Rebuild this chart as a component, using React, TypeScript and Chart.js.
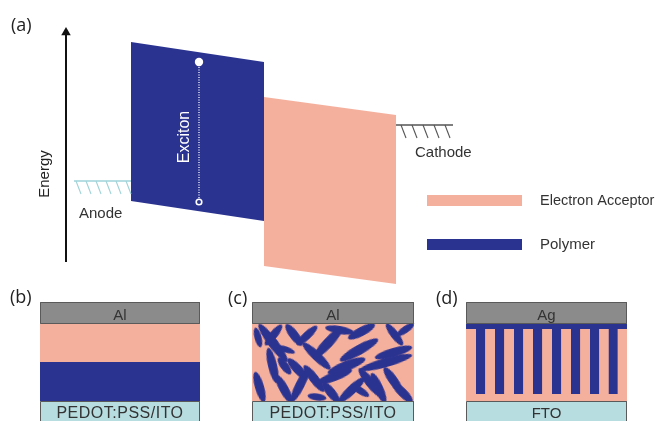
import React, { useEffect, useRef } from 'react';
import { Chart, registerables } from 'chart.js';

Chart.register(...registerables);

// ---------- Panel (a): energy diagram (diagram units, y grows downward) ----------
const POLYMER_X = [131, 264];
const POLYMER_UPPER = [42, 62];
const POLYMER_LOWER = [201, 221];
const ACCEPTOR_X = [264, 396];
const ACCEPTOR_UPPER = [97, 115];
const ACCEPTOR_LOWER = [266, 284];
const ANODE_X = [74, 131];
const ANODE_LEVEL = 181;
const ANODE_HATCH = [76, 86, 96, 106, 116, 126];
const CATHODE_X = [396, 453];
const CATHODE_LEVEL = 125;
const CATHODE_HATCH = [401, 412, 423, 434, 445];
const EXCITON_X = 199;
const EXCITON_Y = [62, 202];
const ENERGY_AXIS_X = 66;
const ENERGY_AXIS_Y = [262, 34];
const LEGEND_LABELS = ['Electron Acceptor', 'Polymer'];
const LEGEND_SWATCH_X = [427, 522];
const LEGEND_SWATCH_Y = [[195, 206], [239, 250]];

// ---------- Panels (b)-(d): device cross sections ----------
const PANEL_B_X = [40, 200];
const PANEL_C_X = [252, 414];
const PANEL_D_X = [466, 627];
const ELECTRODE_Y = [302, 324];
const ACTIVE_Y = [324, 401];
const SUBSTRATE_Y = [401, 424];
const BILAYER_SPLIT = 362;
const PILLAR_CAP_Y = [324, 329];
const PILLAR_LEFT = [476, 495, 514, 533, 552, 571, 590, 608.5];
const PILLAR_WIDTH = 9.3;
const PILLAR_Y = [329, 394];
const TOP_ELECTRODES = ['Al', 'Al', 'Ag'];
const BOTTOM_ELECTRODES = ['PEDOT:PSS/ITO', 'PEDOT:PSS/ITO', 'FTO'];
// bulk heterojunction domains: [x1, y1, x2, y2, thickness]
const BLEND_DOMAINS = [
  [261, 327, 285, 359, 10], [267, 343, 280, 327, 8], [256, 330, 260, 345, 7],
  [288, 327, 300, 343, 9], [299, 343, 315, 328, 8], [305, 345, 328, 367, 9],
  [316, 356, 340, 330, 10], [328, 328, 351, 332, 8], [351, 337, 372, 326, 9],
  [388, 326, 401, 343, 8], [343, 359, 375, 341, 10], [378, 357, 409, 348, 9],
  [269, 351, 276, 380, 9], [280, 360, 289, 372, 8], [290, 361, 305, 377, 9],
  [331, 372, 362, 360, 10], [363, 369, 409, 356, 9], [256, 375, 263, 399, 9],
  [278, 378, 290, 400, 9], [293, 399, 307, 371, 9], [306, 368, 322, 389, 9],
  [320, 382, 349, 371, 9], [325, 385, 337, 400, 9], [341, 400, 362, 380, 9],
  [361, 371, 379, 394, 9], [373, 376, 384, 400, 9], [386, 370, 400, 390, 9],
  [395, 385, 410, 400, 9], [310, 396, 324, 398, 7], [399, 334, 412, 325, 7],
  [279, 347, 293, 352, 6], [353, 386, 367, 395, 7],
];

const BLUE = '#2b3391';
const PINK = '#f5b09d';
const GREY = '#8b8b8b';
const CYAN = '#b8dde1';
const OUTLINE = '#5a5a5a';
const SANS = '"Liberation Sans", Arial, sans-serif';

type Txt = { text: string; x: number; y: number; font: string; color: string; align: CanvasTextAlign; base: CanvasTextBaseline; rot?: number; spacing?: string };

const panelCenters = [PANEL_B_X, PANEL_C_X, PANEL_D_X].map((p) => (p[0] + p[1]) / 2);

const TEXTS: Txt[] = [
  { text: '(a)', x: 11, y: 26, font: '18px "Open Sans"', color: '#222', align: 'left', base: 'middle' },
  { text: '(b)', x: 10, y: 298, font: '18px "Open Sans"', color: '#222', align: 'left', base: 'middle' },
  { text: '(c)', x: 228, y: 299, font: '18px "Open Sans"', color: '#222', align: 'left', base: 'middle' },
  { text: '(d)', x: 436, y: 299, font: '18px "Open Sans"', color: '#222', align: 'left', base: 'middle' },
  { text: 'Energy', x: 45, y: 174, font: `15px ${SANS}`, color: '#222', align: 'center', base: 'middle', rot: -90 },
  { text: 'Exciton', x: 185, y: 137, font: `16px ${SANS}`, color: '#ffffff', align: 'center', base: 'middle', rot: -90 },
  { text: 'Anode', x: 79, y: 218, font: `15px ${SANS}`, color: '#333', align: 'left', base: 'alphabetic' },
  { text: 'Cathode', x: 415, y: 157, font: `15px ${SANS}`, color: '#333', align: 'left', base: 'alphabetic' },
  { text: LEGEND_LABELS[0], x: 540, y: 200.5, font: `14.5px ${SANS}`, color: '#333', align: 'left', base: 'middle' },
  { text: LEGEND_LABELS[1], x: 540, y: 244.5, font: `15px ${SANS}`, color: '#333', align: 'left', base: 'middle' },
  ...TOP_ELECTRODES.map((t, i) => ({ text: t, x: panelCenters[i], y: 319.5, font: `15px ${SANS}`, color: '#333', align: 'center' as CanvasTextAlign, base: 'alphabetic' as CanvasTextBaseline })),
  ...BOTTOM_ELECTRODES.map((t, i) => ({ text: t, x: panelCenters[i], y: 418, font: t.length > 3 ? `16px ${SANS}` : `15px ${SANS}`, color: '#333', align: 'center' as CanvasTextAlign, base: 'alphabetic' as CanvasTextBaseline, spacing: t.length > 3 ? '0.5px' : '0px' })),
];

const textPlugin = {
  id: 'diagramText',
  afterDatasetsDraw(chart: any) {
    const { ctx } = chart;
    const sx = chart.scales.x;
    const sy = chart.scales.y;
    for (const t of TEXTS) {
      ctx.save();
      ctx.translate(sx.getPixelForValue(t.x), sy.getPixelForValue(t.y));
      if (t.rot) ctx.rotate((t.rot * Math.PI) / 180);
      ctx.font = t.font;
      ctx.fillStyle = t.color;
      ctx.textAlign = t.align;
      ctx.textBaseline = t.base;
      if (t.spacing) ctx.letterSpacing = t.spacing;
      ctx.fillText(t.text, 0, 0);
      ctx.restore();
    }
  },
};

function blobImage(len: number, th: number) {
  const c = document.createElement('canvas');
  c.width = Math.ceil(len + 2);
  c.height = Math.ceil(th + 2);
  const g = c.getContext('2d')!;
  g.fillStyle = BLUE;
  g.beginPath();
  g.ellipse(c.width / 2, c.height / 2, len / 2, th / 2, 0, 0, Math.PI * 2);
  g.fill();
  return c;
}

function buildDatasets() {
  const ds: any[] = [];
  const pt = (x: number, y: number) => ({ x, y });
  const band = (xs: number[], upper: number[], lower: number[], color: string) => {
    const idx = ds.length;
    ds.push({ data: [pt(xs[0], upper[0]), pt(xs[1], upper[1])], fill: idx + 1, backgroundColor: color, borderColor: 'transparent', borderWidth: 0, pointRadius: 0 });
    ds.push({ data: [pt(xs[0], lower[0]), pt(xs[1], lower[1])], fill: false, backgroundColor: 'transparent', borderColor: 'transparent', borderWidth: 0, pointRadius: 0 });
  };
  const rect = (xs: number[], ys: number[], color: string) => band(xs, [ys[0], ys[0]], [ys[1], ys[1]], color);
  const line = (pts: number[][], color: string, width: number, dash: number[] = []) => {
    ds.push({ data: pts.map((p) => pt(p[0], p[1])), fill: false, borderColor: color, borderWidth: width, borderDash: dash, pointRadius: 0, borderCapStyle: 'butt' });
  };
  const outline = (xs: number[], ys: number[]) => {
    const x0 = xs[0] + 0.5, x1 = xs[1] - 0.5, y0 = ys[0] + 0.5, y1 = ys[1] - 0.5;
    line([[x0, y0], [x1, y0], [x1, y1], [x0, y1], [x0, y0]], OUTLINE, 1);
  };

  // (a) bands
  band(ACCEPTOR_X, ACCEPTOR_UPPER, ACCEPTOR_LOWER, PINK);
  band(POLYMER_X, POLYMER_UPPER, POLYMER_LOWER, BLUE);
  // electrodes
  line([[ANODE_X[0], ANODE_LEVEL], [ANODE_X[1], ANODE_LEVEL]], '#9fd3d8', 1.3);
  ANODE_HATCH.forEach((x) => line([[x, ANODE_LEVEL], [x + 5, ANODE_LEVEL + 13]], '#9fd3d8', 1.1));
  line([[CATHODE_X[0], CATHODE_LEVEL], [CATHODE_X[1], CATHODE_LEVEL]], '#555', 1.3);
  CATHODE_HATCH.forEach((x) => line([[x, CATHODE_LEVEL], [x + 5, CATHODE_LEVEL + 13]], '#555', 1.1));
  // exciton
  line([[EXCITON_X, EXCITON_Y[0] + 5], [EXCITON_X, EXCITON_Y[1] - 4]], '#ffffff', 1.3, [1, 1.5]);
  ds.push({ data: [pt(EXCITON_X, EXCITON_Y[0])], showLine: false, pointRadius: 4.2, pointBackgroundColor: '#ffffff', pointBorderWidth: 0, pointBorderColor: '#ffffff' });
  ds.push({ data: [pt(EXCITON_X, EXCITON_Y[1])], showLine: false, pointRadius: 2.8, pointBackgroundColor: BLUE, pointBorderWidth: 1.6, pointBorderColor: '#ffffff' });
  // energy axis
  line([[ENERGY_AXIS_X, ENERGY_AXIS_Y[0]], [ENERGY_AXIS_X, ENERGY_AXIS_Y[1]]], '#111', 2);
  ds.push({ data: [pt(ENERGY_AXIS_X, ENERGY_AXIS_Y[1] - 1.5)], showLine: false, pointStyle: 'triangle', pointRadius: 5.5, pointBackgroundColor: '#111', pointBorderWidth: 0, pointBorderColor: '#111' });
  // legend swatches
  rect(LEGEND_SWATCH_X, LEGEND_SWATCH_Y[0], PINK);
  rect(LEGEND_SWATCH_X, LEGEND_SWATCH_Y[1], BLUE);

  // (b) bilayer
  rect(PANEL_B_X, [ACTIVE_Y[0], BILAYER_SPLIT], PINK);
  rect(PANEL_B_X, [BILAYER_SPLIT, ACTIVE_Y[1]], BLUE);
  // (c) bulk heterojunction
  rect(PANEL_C_X, ACTIVE_Y, PINK);
  // (d) ordered
  rect(PANEL_D_X, ACTIVE_Y, PINK);
  rect(PANEL_D_X, PILLAR_CAP_Y, BLUE);
  PILLAR_LEFT.forEach((x) => rect([x, x + PILLAR_WIDTH], PILLAR_Y, BLUE));

  // blend domains (drawn before the electrodes so they are covered by them)
  const imgs = BLEND_DOMAINS.map((d) => {
    const len = Math.hypot(d[2] - d[0], d[3] - d[1]) + d[4] * 0.7;
    return blobImage(len, d[4]);
  });
  ds.push({
    data: BLEND_DOMAINS.map((d) => pt((d[0] + d[2]) / 2, (d[1] + d[3]) / 2)),
    showLine: false,
    pointRadius: 1,
    pointStyle: imgs,
    pointRotation: BLEND_DOMAINS.map((d) => (Math.atan2(d[3] - d[1], d[2] - d[0]) * 180) / Math.PI),
  });
  // white-out any domain edge leaking past the panel sides
  rect([PANEL_C_X[0] - 14, PANEL_C_X[0]], ACTIVE_Y, '#ffffff');
  rect([PANEL_C_X[1], PANEL_C_X[1] + 14], ACTIVE_Y, '#ffffff');

  // electrodes of each panel
  [PANEL_B_X, PANEL_C_X, PANEL_D_X].forEach((px) => {
    rect(px, ELECTRODE_Y, GREY);
    outline(px, ELECTRODE_Y);
    rect(px, SUBSTRATE_Y, CYAN);
    outline(px, SUBSTRATE_Y);
  });

  ds.forEach((d, i) => { d.order = ds.length - i; });
  return ds;
}

export default function App() {
  const ref = useRef<HTMLCanvasElement>(null);
  useEffect(() => {
    document.body.style.margin = '0';
    document.body.style.background = '#ffffff';
    if (!ref.current) return;
    const chart = new Chart(ref.current, {
      type: 'line',
      data: { datasets: buildDatasets() },
      options: {
        responsive: false,
        maintainAspectRatio: false,
        animation: false,
        events: [],
        layout: { padding: 0, autoPadding: false },
        elements: { line: { tension: 0 } },
        scales: {
          x: { type: 'linear', min: 0, max: 663, display: false },
          y: { type: 'linear', min: 0, max: 421, reverse: true, display: false },
        },
        plugins: { legend: { display: false }, tooltip: { enabled: false }, filler: { propagate: false } },
      } as any,
      plugins: [textPlugin],
    });
    return () => chart.destroy();
  }, []);
  return <canvas ref={ref} width={663} height={421} style={{ display: 'block' }} />;
}
